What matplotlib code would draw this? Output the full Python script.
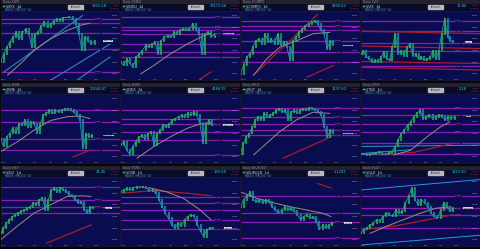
import numpy as np
import matplotlib
matplotlib.use("Agg")
import matplotlib.pyplot as plt

tickers = ["$SPX", "$INDU", "$COMPQ", "$VIX", "$NYA", "$NDX",
           "$RUT", "$TNX", "$XLF", "$CRB", "$EURUSD", "$GLD"]
last_px = ["1931.58", "17172.68", "4702.52", "17.85", "10244.87", "4288.35",
           "1137.50", "2.18", "24.45", "195.08", "1.1202", "1123.30"]
chg_px = ["-4.87", "-26.52", "-2.19", "+0.81", "-15.14", "+6.02",
          "+3.22", "+0.06", "-0.15", "+1.48", "-0.0011", "-8.56"]

p1_price = [23, 36, 46, 54, 62, 69, 59, 69, 74, 67, 46, 67, 69, 79, 85, 77, 82, 87, 90,
            87, 92, 92, 93, 90, 82, 67, 41, 62, 56, 51, 56]
p1_ma_x = [6, 17, 28, 42, 56, 69, 75]
p1_ma_y = [3, 21, 41, 59, 72, 81, 83]
p1_levels = [90, 83, 68, 43, 8]
p1_cyan = [(3, 8, 69, 95), (42, -5, 92, 51), (64, -5, 92, 31)]
p1_red = []

p2_price = [23, 18, 28, 21, 15, 31, 36, 41, 49, 46, 51, 54, 36, 56, 62, 64, 62, 69, 67,
            72, 74, 72, 74, 82, 74, 67, 36, 67, 69, 62, 67]
p2_ma_x = [17, 28, 42, 56, 69, 76]
p2_ma_y = [5, 18, 36, 51, 63, 68]
p2_levels = [93, 78, 73, 67, 51, 38, 31]
p2_cyan = []
p2_red = [(67, -3, 76, 8)]

p3_price = [5, 18, 31, 36, 46, 56, 59, 51, 67, 54, 59, 51, 67, 49, 54, 46, 26, 56, 62,
            69, 74, 79, 82, 85, 87, 82, 72, 67, 44, 56, 49]
p3_ma_x = [11, 22, 33, 47, 61, 75]
p3_ma_y = [3, 28, 46, 56, 67, 69]
p3_levels = [87, 79, 72, 56, 38, 23]
p3_cyan = []
p3_red = [(11, 3, 65, 97), (56, 0, 78, 18)]

p4_price = [36, 41, 31, 28, 23, 26, 23, 31, 38, 28, 26, 46, 67, 36, 41, 33, 46, 51, 33,
            36, 28, 31, 26, 28, 31, 41, 28, 41, 67, 90, 62, 56, 54]
p4_ma_x = []
p4_ma_y = []
p4_levels = [87, 71, 52, 41, 17]
p4_cyan = []
p4_red = [(0, 71, 100, 67), (0, 48, 100, 44), (0, 24, 100, 21), (0, 15, 100, 11)]

p5_price = [33, 21, 36, 41, 49, 41, 56, 54, 62, 51, 59, 56, 41, 56, 69, 72, 77, 72, 77,
            74, 77, 79, 79, 77, 74, 69, 62, 18, 41, 36, 38]
p5_ma_x = [0, 14, 28, 42, 56, 67, 75]
p5_ma_y = [13, 28, 46, 61, 67, 68, 64]
p5_levels = [78, 59, 33, 15]
p5_cyan = []
p5_red = [(61, 5, 75, 15)]

p6_price = [23, 28, 15, 10, 21, 28, 36, 38, 33, 41, 44, 23, 41, 46, 54, 51, 56, 62, 64,
            67, 69, 67, 72, 69, 74, 69, 56, 26, 56, 62, 54]
p6_ma_x = [14, 28, 42, 56, 69, 76]
p6_ma_y = [3, 21, 36, 49, 57, 57]
p6_levels = [77, 63, 55, 44, 31, 8]
p6_cyan = []
p6_red = []

p7_price = [10, 26, 36, 41, 51, 62, 67, 62, 72, 67, 69, 72, 77, 79, 74, 77, 62, 74, 77,
            72, 77, 79, 77, 81, 79, 77, 74, 69, 51, 36, 46, 41]
p7_ma_x = [11, 22, 33, 47, 61, 75]
p7_ma_y = [8, 26, 44, 62, 74, 72]
p7_levels = [81, 67, 56, 46, 38]
p7_cyan = []
p7_red = [(36, 3, 76, 36)]

p8_price = [10, 9, 8, 9, 10, 11, 13, 10, 9, 11, 13, 21, 31, 41, 46, 54, 59, 67, 72, 77,
            64, 67, 69, 64, 67, 69, 67, 62, 67, 64, 67]
p8_ma_x = [28, 42, 56, 67, 75]
p8_ma_y = [8, 15, 36, 51, 59]
p8_levels = [81, 69, 56, 44, 26, 10]
p8_cyan = [(0, 21, 100, 23), (0, 10, 42, 16)]
p8_red = [(17, 8, 45, 12), (45, 12, 78, 26)]

p9_price = [15, 23, 31, 36, 41, 44, 46, 49, 51, 54, 56, 62, 59, 67, 69, 51, 67, 82, 85,
            79, 85, 82, 79, 74, 72, 67, 62, 64, 51, 46, 56, 54]
p9_ma_x = [0, 14, 28, 42, 56, 69, 76]
p9_ma_y = [5, 26, 46, 59, 72, 73, 72]
p9_levels = [87, 67, 56, 46]
p9_cyan = []
p9_red = [(39, 0, 76, 28)]

p10_price = [79, 82, 85, 82, 85, 87, 86, 87, 85, 81, 82, 77, 67, 56, 46, 38, 28, 23, 31,
             26, 36, 41, 44, 41, 28, 18, 10, 21, 23, 23]
p10_ma_x = [25, 39, 53, 67, 76]
p10_ma_y = [85, 79, 69, 51, 36]
p10_levels = [71, 62, 51, 36, 21]
p10_cyan = []
p10_red = [(0, 77, 28, 81), (28, 81, 56, 77), (56, 77, 76, 73)]

p11_price = [56, 67, 72, 79, 67, 64, 67, 62, 67, 64, 56, 51, 46, 51, 56, 51, 54, 49, 44,
             36, 41, 44, 38, 41, 33, 21, 28, 23, 28, 31]
p11_ma_x = [0, 14, 28, 42, 56, 69, 76]
p11_ma_y = [79, 69, 62, 56, 51, 46, 41]
p11_levels = [72, 46, 33, 8]
p11_cyan = []
p11_red = [(65, 92, 76, 85)]

p12_price = [15, 21, 23, 28, 31, 36, 33, 41, 46, 44, 41, 51, 46, 49, 62, 72, 85, 67, 59,
             67, 62, 56, 46, 41, 38, 51, 62, 56, 49, 54]
p12_ma_x = [8, 22, 36, 50, 64, 76]
p12_ma_y = [15, 26, 36, 46, 54, 56]
p12_levels = [73, 54, 44, 23]
p12_cyan = [(0, 82, 100, 98), (0, -3, 100, 12)]
p12_red = [(0, 21, 28, 26), (28, 26, 56, 36), (56, 36, 78, 44)]

price_end = [79, 79, 78, 78, 77, 77, 78, 79, 78, 78, 77, 78]
date_labels = ["2014", "Mar", "May", "Jul", "Sep", "Nov", "2015"]

panels = [
    (p1_price, p1_ma_x, p1_ma_y, p1_levels, p1_cyan, p1_red),
    (p2_price, p2_ma_x, p2_ma_y, p2_levels, p2_cyan, p2_red),
    (p3_price, p3_ma_x, p3_ma_y, p3_levels, p3_cyan, p3_red),
    (p4_price, p4_ma_x, p4_ma_y, p4_levels, p4_cyan, p4_red),
    (p5_price, p5_ma_x, p5_ma_y, p5_levels, p5_cyan, p5_red),
    (p6_price, p6_ma_x, p6_ma_y, p6_levels, p6_cyan, p6_red),
    (p7_price, p7_ma_x, p7_ma_y, p7_levels, p7_cyan, p7_red),
    (p8_price, p8_ma_x, p8_ma_y, p8_levels, p8_cyan, p8_red),
    (p9_price, p9_ma_x, p9_ma_y, p9_levels, p9_cyan, p9_red),
    (p10_price, p10_ma_x, p10_ma_y, p10_levels, p10_cyan, p10_red),
    (p11_price, p11_ma_x, p11_ma_y, p11_levels, p11_cyan, p11_red),
    (p12_price, p12_ma_x, p12_ma_y, p12_levels, p12_cyan, p12_red),
]

W, H = 480, 249
PW, PH = 120, 83
BG = "#0a0c50"
MAG = "#8a1cb8"
GREEN = "#26c43c"
TEAL = "#1c9aa8"
TAN = "#a08c80"
RED = "#a81c2c"
CYAN = "#2a98d0"

fig = plt.figure(figsize=(W / 100, H / 100), dpi=100, facecolor="#05050f")


def fx(px):
    return px / W


def fy(px):
    return 1 - px / H


for i, (price, ma_x, ma_y, levels, cyan, red) in enumerate(panels):
    r, c = divmod(i, 4)
    x0, y0 = c * PW, r * PH

    # header strip + toolbar
    hd = fig.add_axes([fx(x0 + 0.5), fy(y0 + 4), (PW - 1) / W, 4 / H])
    hd.set_facecolor("#22222c")
    hd.set_xticks([]); hd.set_yticks([])
    for s in hd.spines.values():
        s.set_visible(False)
    hd.text(0.02, 0.5, "Daily " + tickers[i], color="#8c8c96", fontsize=2.2,
            va="center", transform=hd.transAxes)

    tb = fig.add_axes([fx(x0 + 0.5), fy(y0 + 11), (PW - 1) / W, 7 / H])
    tb.set_facecolor("#0a0a2a")
    tb.set_xticks([]); tb.set_yticks([])
    tb.set_xlim(0, 100); tb.set_ylim(0, 10)
    for s in tb.spines.values():
        s.set_visible(False)
    tb.text(1, 6.5, "+", color="#3ad04a", fontsize=3.5, va="center", fontweight="bold")
    tb.text(5, 6.5, tickers[i] + "  1d", color="#d8d8e8", fontsize=2.4, va="center")
    tb.text(4, 1.5, "MA(50)  MA(200)  Vol", color="#4aa8c8", fontsize=1.8, va="center")
    tb.add_patch(plt.Rectangle((57, 3.5), 12, 5, color="#b8b8c0"))
    tb.text(63, 6, "Interval", color="#202020", fontsize=1.8, ha="center", va="center")
    tb.text(89, 6.5, last_px[i], color="#28c8e8", fontsize=2.6, ha="right", va="center")
    tb.text(99.5, 7.8, chg_px[i], color="#e03030", fontsize=1.7, ha="right", va="center")
    tb.text(99.5, 4.2, "-0.25%", color="#e03030", fontsize=1.7, ha="right", va="center")

    # main plot area
    ax = fig.add_axes([fx(x0 + 0.5), fy(y0 + 80), (PW - 1) / W, 69 / H])
    ax.set_facecolor(BG)
    ax.set_xlim(0, 100)
    ax.set_ylim(-4.5, 102)
    ax.set_xticks([]); ax.set_yticks([])
    for s in ax.spines.values():
        s.set_color("#1a1a3a")
        s.set_linewidth(0.5)

    for lv in levels:
        ax.axhline(lv, color=MAG, lw=0.9, zorder=1)
        ax.text(82, lv, f"{lv * 20 + 1000:,}", color="#c070e0", fontsize=1.6,
                va="center", ha="center", zorder=5,
                bbox=dict(boxstyle="square,pad=0.15", fc="#2a1050", ec="none"))

    for (xa, ya, xb, yb) in cyan:
        ax.plot([xa, xb], [ya, yb], color=CYAN, lw=0.7, zorder=2)
    for (xa, ya, xb, yb) in red:
        ax.plot([xa, xb], [ya, yb], color=RED, lw=0.9, zorder=2)

    if ma_x:
        ax.plot(ma_x, ma_y, color=TAN, lw=0.7, zorder=3)

    # price as bar-like strokes: each stroke spans previous to current close
    xs = np.linspace(0, price_end[i], len(price))
    p = np.asarray(price, dtype=float)
    up = np.r_[True, p[1:] >= p[:-1]]
    lo = np.r_[p[0], np.minimum(p[1:], p[:-1])] - 1.5
    hi = np.r_[p[0], np.maximum(p[1:], p[:-1])] + 1.5
    ax.plot(xs, p, color=TEAL, lw=0.6, zorder=3)
    ax.vlines(xs[up], lo[up], hi[up], color=GREEN, lw=1.1, zorder=4)
    ax.vlines(xs[~up], lo[~up], hi[~up], color=TEAL, lw=1.1, zorder=4)

    # right axis labels
    for t in range(6):
        yy = 5 + t * 18
        ax.text(96, yy, f"{1000 + t * 200:,}", color="#c8c8d8", fontsize=1.6,
                ha="center", va="center")
    ax.text(90.5, price[-1], last_px[i], color="#101010", fontsize=1.6, ha="center",
            va="center", bbox=dict(boxstyle="square,pad=0.1", fc="#d0d0d8", ec="none"))

    # date labels
    for k, lab in enumerate(date_labels):
        ax.text(3 + k * 13, -3, lab, color="#9090a0", fontsize=1.6, ha="center",
                va="center")

fig.savefig("out.png", dpi=100, facecolor=fig.get_facecolor())
